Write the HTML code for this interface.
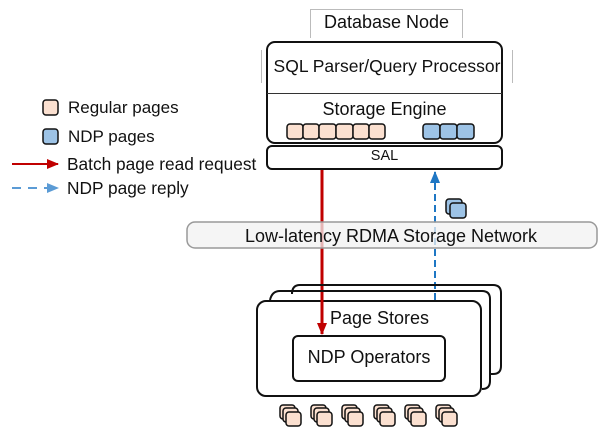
<!DOCTYPE html>
<html><head><meta charset="utf-8"><style>
body{margin:0;width:604px;height:434px;background:#fff;position:relative;overflow:hidden;font-family:"Liberation Sans",Arial,sans-serif;color:#111}
.a{position:absolute;box-sizing:border-box}
.t{position:absolute;white-space:nowrap}
</style></head><body>
<div class="a" style="left:310px;top:9px;width:153px;height:29px;border:1px solid #bbb;border-bottom:none"></div>
<div class="t" style="left:310px;top:12px;width:153px;text-align:center;font-size:18px">Database Node</div>
<div class="a" style="left:266px;top:41px;width:237px;height:103px;border:2px solid #111;border-radius:9px"></div>
<div class="a" style="left:261px;top:50px;width:252px;height:33px;border:1px solid #bbb;border-top:none;border-bottom:none"></div>
<div class="t" style="left:262px;top:56px;width:250px;text-align:center;font-size:17.5px">SQL Parser/Query Processor</div>
<div class="a" style="left:267px;top:93px;width:235px;height:1px;background:#333"></div>
<div class="t" style="left:266px;top:99px;width:237px;text-align:center;font-size:18px">Storage Engine</div>
<div class="a" style="left:266px;top:145px;width:237px;height:25px;border:2px solid #111;border-radius:6px"></div>
<div class="t" style="left:266px;top:148px;width:237px;text-align:center;font-size:14.5px">SAL</div>
<div class="a" style="left:256px;top:300px;width:226px;height:97px;border:2px solid #111;border-radius:10px"></div>
<div class="a" style="left:292px;top:335px;width:154px;height:47px;border:2px solid #111;border-radius:6px;background:#fff"></div>
<div class="t" style="left:292px;top:347px;width:154px;text-align:center;font-size:18px">NDP Operators</div>
<div class="t" style="left:330px;top:308px;font-size:18px">Page Stores</div>
<div class="t" style="left:68px;top:98px;font-size:17px">Regular pages</div>
<div class="t" style="left:68px;top:127px;font-size:17px">NDP pages</div>
<div class="t" style="left:67px;top:154px;font-size:17.3px">Batch page read request</div>
<div class="t" style="left:67px;top:178px;font-size:17.3px">NDP page reply</div>
<svg class="a" style="left:0;top:0" width="604" height="434">
<defs>
<marker id="r" markerWidth="12" markerHeight="10" refX="11" refY="5" orient="auto" markerUnits="userSpaceOnUse"><path d="M0,0L12,5L0,10z" fill="#c00000"/></marker>
<marker id="b" markerWidth="12" markerHeight="10" refX="11" refY="5" orient="auto" markerUnits="userSpaceOnUse"><path d="M0,0L12,5L0,10z" fill="#1f77c4"/></marker>
<marker id="b2" markerWidth="12" markerHeight="10" refX="11" refY="5" orient="auto" markerUnits="userSpaceOnUse"><path d="M0,0L12,5L0,10z" fill="#5b9bd5"/></marker>
</defs>
<g fill="#fbe0d0" stroke="#111" stroke-width="1.5">
<rect x="287" y="124" width="16" height="15" rx="3"/><rect x="303" y="124" width="16" height="15" rx="3"/><rect x="319" y="124" width="17" height="15" rx="3"/><rect x="336" y="124" width="17" height="15" rx="3"/><rect x="353" y="124" width="16" height="15" rx="3"/><rect x="369" y="124" width="16" height="15" rx="3"/>
<rect x="43" y="100" width="15" height="15" rx="3"/>
</g>
<g fill="#9dc3e6" stroke="#111" stroke-width="1.5">
<rect x="423" y="124" width="17" height="15" rx="3"/><rect x="440" y="124" width="17" height="15" rx="3"/><rect x="457" y="124" width="17" height="15" rx="3"/>
<rect x="43" y="129" width="15" height="15" rx="3"/>
<rect x="446" y="199" width="16" height="15" rx="3"/><rect x="450" y="203" width="16" height="15" rx="3"/>
</g>
<line x1="12" y1="164" x2="58" y2="164" stroke="#c00000" stroke-width="2" marker-end="url(#r)"/>
<line x1="12" y1="188" x2="58" y2="188" stroke="#5b9bd5" stroke-width="2" stroke-dasharray="9,7" marker-end="url(#b2)"/>
<line x1="322" y1="170" x2="322" y2="334" stroke="#c00000" stroke-width="3" marker-end="url(#r)"/>
<line x1="435" y1="300" x2="435" y2="172" stroke="#1f77c4" stroke-width="2" stroke-dasharray="7,4" marker-end="url(#b)"/>
<rect x="187" y="222" width="410" height="26" rx="8" fill="#f2f2f2" fill-opacity="0.75" stroke="#999" stroke-width="1.5"/>
<text x="391" y="242" text-anchor="middle" font-size="18" font-family="Liberation Sans,Arial,sans-serif" fill="#111">Low-latency RDMA Storage Network</text>
<path d="M292,290 V294 Q292,285 300,285 H493 Q501,285 501,293 V366 Q501,374 493,374 H490" fill="none" stroke="#111" stroke-width="2"/>
<path d="M270,300 Q272,291 280,291 H482 Q490,291 490,299 V381 Q490,389 482,389 H482" fill="none" stroke="#111" stroke-width="2"/>
<g fill="#fbe0d0" stroke="#111" stroke-width="1.5">
<g id="s"><rect x="280" y="405" width="15" height="14" rx="3"/><rect x="283" y="408" width="15" height="14" rx="3"/><rect x="286" y="412" width="15" height="14" rx="3"/></g>
<use href="#s" x="31"/><use href="#s" x="62"/><use href="#s" x="94"/><use href="#s" x="125"/><use href="#s" x="156"/>
</g>
</svg>
</body></html>
